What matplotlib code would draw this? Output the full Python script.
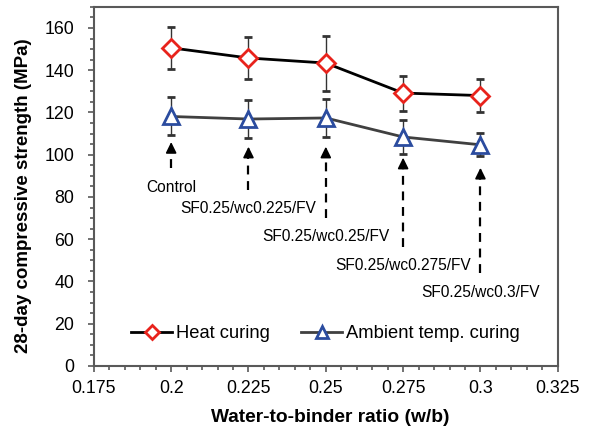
import matplotlib
matplotlib.use("Agg")
import matplotlib.pyplot as plt
from matplotlib.ticker import MultipleLocator

plt.rcParams['font.family'] = ['Liberation Sans', 'DejaVu Sans']

# data
wb = [0.2, 0.225, 0.25, 0.275, 0.3]
heat = [150.6, 145.8, 143.4, 129.2, 128.0]
heat_err = [9.8, 9.8, 13.0, 8.3, 8.0]
ambient = [118.1, 116.9, 117.4, 108.4, 104.7]
ambient_err = [9.0, 9.0, 9.0, 8.0, 5.5]

mix_labels = ["Control", "SF0.25/wc0.225/FV", "SF0.25/wc0.25/FV",
              "SF0.25/wc0.275/FV", "SF0.25/wc0.3/FV"]
arrow_tip = [106.0, 103.8, 103.8, 98.6, 93.8]
arrow_tail = [93.8, 83.4, 70.1, 56.4, 44.1]
label_y = [84.5, 74.5, 61.5, 47.5, 35.0]

fig = plt.figure(figsize=(5.94, 4.29), dpi=100)
ax = fig.add_axes([0.158, 0.147, 0.781, 0.837])

ax.errorbar(wb, heat, yerr=heat_err, color='black', lw=2, ecolor='#333333',
            elinewidth=1, capsize=3, capthick=1, marker='D', ms=9,
            mfc='white', mec='#e8231c', mew=2, label='Heat curing', zorder=3)
ax.errorbar(wb, ambient, yerr=ambient_err, color='#404040', lw=2, ecolor='#333333',
            elinewidth=1, capsize=3, capthick=1, marker='^', ms=12,
            mfc='white', mec='#2b4c9f', mew=2, label='Ambient temp. curing', zorder=3)

for x, t0, t1, ly, lab in zip(wb, arrow_tail, arrow_tip, label_y, mix_labels):
    ax.plot([x, x], [t0, t1 - 3], color='black', lw=1.6, ls=(0, (4, 3)))
    ax.annotate('', xy=(x, t1), xytext=(x, t1 - 3),
                arrowprops=dict(arrowstyle='-|>,head_length=0.65,head_width=0.32',
                                color='black', lw=1.2, shrinkA=0, shrinkB=0))
    ax.text(x, ly, lab, ha='center', va='center', fontsize=11.2)

ax.set_xlim(0.175, 0.325)
ax.set_ylim(0, 170)
ax.set_xticks([0.175, 0.2, 0.225, 0.25, 0.275, 0.3, 0.325])
ax.set_xticklabels(['0.175', '0.2', '0.225', '0.25', '0.275', '0.3', '0.325'])
ax.set_yticks(range(0, 161, 20))
ax.xaxis.set_minor_locator(MultipleLocator(0.005))
ax.yaxis.set_minor_locator(MultipleLocator(5))
ax.tick_params(which='major', direction='out', length=4, width=1.2,
               color='#595959', labelsize=12.8)
ax.tick_params(axis='x', which='major', pad=6)
ax.tick_params(axis='y', which='major', pad=10)
ax.tick_params(which='minor', direction='out', length=3, width=1.2, color='#595959')
for s in ax.spines.values():
    s.set_color('#595959')
    s.set_linewidth(1.5)

ax.set_xlabel('Water-to-binder ratio (w/b)', fontsize=13.8, fontweight='bold')
ax.set_ylabel('28-day compressive strength (MPa)', fontsize=13.5, fontweight='bold')
ax.xaxis.set_label_coords(0.51, -0.12)
ax.yaxis.set_label_coords(-0.134, 0.474)

handles, labels = ax.get_legend_handles_labels()
handles = [h[0] for h in handles]
ax.legend(handles, labels, loc='lower center', bbox_to_anchor=(0.5, 0.02), ncol=2,
          frameon=False, fontsize=13.2, handlelength=2.2, handletextpad=0.25,
          columnspacing=1.7, markerscale=0.75)

fig.savefig('out.png', dpi=100)
